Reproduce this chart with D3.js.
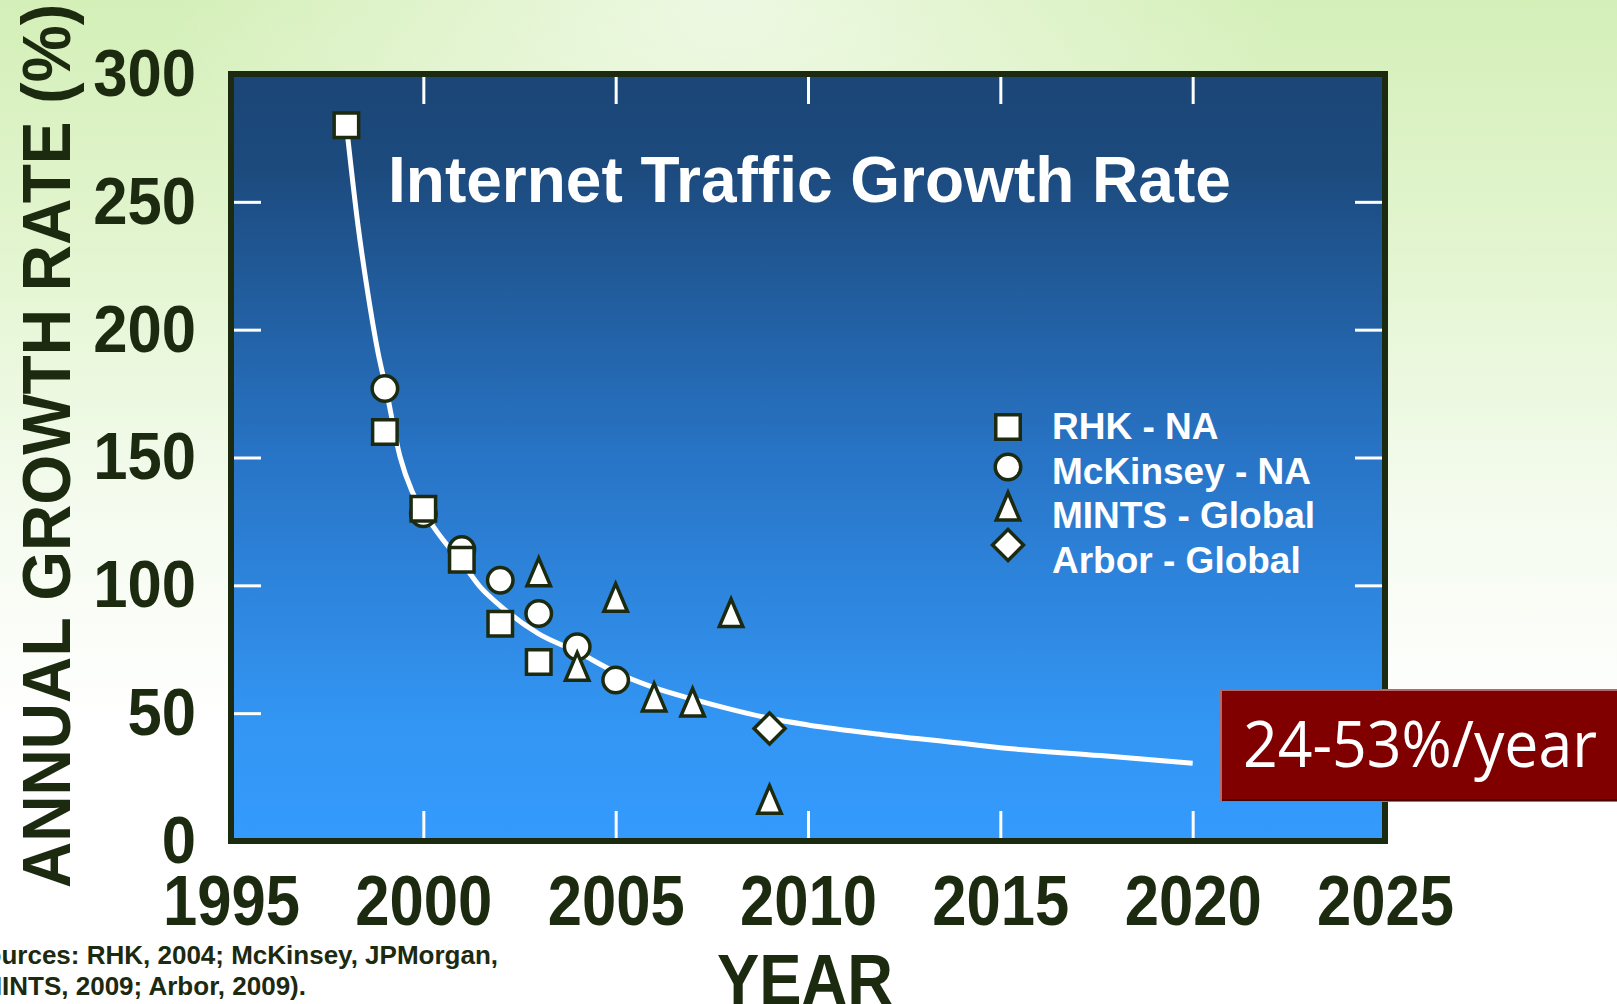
<!DOCTYPE html>
<html lang="en">
<head>
    <meta charset="UTF-8">
    <title>Internet Traffic Growth Rate</title>
    <script src="https://d3js.org/d3.v7.min.js"></script>
    <style>
        body { margin: 0; overflow: hidden; }
        svg { display: block; }
        text { font-family: "Liberation Sans", Arial, sans-serif; font-weight: bold; }
    </style>
</head>
<body>
<script type="text/javascript">
var widthOfTotalDisplay = 1617;
var heightOfTotalDisplay = 1004;
var margin = {
  top: 74,
  bottom: 163,
  left: 231,
  right: 232
};
var width = widthOfTotalDisplay - margin.left - margin.right;
var height = heightOfTotalDisplay - margin.top - margin.bottom;

// axis ticks
var yearTicks = [1995, 2000, 2005, 2010, 2015, 2020, 2025];
var rateTicks = [0, 50, 100, 150, 200, 250, 300];

// measured points
var rhkYears = [1998, 1999, 2000, 2001, 2002, 2003];
var rhkRates = [280, 160, 130, 110, 85, 70];
var mckinseyYears = [1999, 2000, 2001, 2002, 2003, 2004, 2005];
var mckinseyRates = [177, 128, 114, 102, 89, 76, 63];
var mintsYears = [2003, 2004, 2005, 2006, 2007, 2008, 2009];
var mintsRates = [105, 68, 95, 56, 54, 89, 16];
var arborYears = [2009];
var arborRates = [44];

// white trend curve
var fitYears = [1998, 1998.3, 1998.55, 1998.85, 1999, 1999.4, 1999.7, 2000, 2000.5, 2001, 2001.5, 2002,
                2003, 2004, 2005, 2006, 2007, 2008, 2009, 2010, 2012, 2014, 2015, 2017.6, 2020];
var fitRates = [280, 241, 215, 189, 179, 150, 137, 129, 118, 109, 99, 92,
                81, 74, 66, 60, 55.5, 51.5, 48, 45.4, 41.5, 38.2, 36.5, 33.4, 30.4];

var legendLabels = ["RHK - NA", "McKinsey - NA", "MINTS - Global", "Arbor - Global"];

var darkInk = "#1c2a10";

var x = d3.scaleLinear()
        .domain([1995, 2025])
        .range([0, width]);

var y = d3.scaleLinear()
        .domain([0, 300])
        .range([height, 0]);

// tall triangle and square diamond, as drawn in the slide
var tallTriangle = {
    draw: function (context, size) {
        var h = Math.sqrt(size);
        context.moveTo(0, -h * 1.05);
        context.lineTo(h * 0.85, h * 0.95);
        context.lineTo(-h * 0.85, h * 0.95);
        context.closePath();
    }
};
var squareDiamond = {
    draw: function (context, size) {
        var r = Math.sqrt(size);
        context.moveTo(0, -r);
        context.lineTo(r, 0);
        context.lineTo(0, r);
        context.lineTo(-r, 0);
        context.closePath();
    }
};

var series = [
    {name: legendLabels[0], years: rhkYears, rates: rhkRates, type: d3.symbolSquare, size: 600},
    {name: legendLabels[1], years: mckinseyYears, rates: mckinseyRates, type: d3.symbolCircle, size: 510},
    {name: legendLabels[2], years: mintsYears, rates: mintsRates, type: tallTriangle, size: 190},
    {name: legendLabels[3], years: arborYears, rates: arborRates, type: squareDiamond, size: 240}
];

var svg = d3.select("body").append("svg")
          .attr("id", "chart")
          .attr("width", widthOfTotalDisplay)
          .attr("height", heightOfTotalDisplay);

var defs = svg.append("defs");

var bg = defs.append("linearGradient").attr("id", "bgGrad")
    .attr("x1", 0).attr("y1", 0).attr("x2", 0).attr("y2", 1);
bg.append("stop").attr("offset", "0%").attr("stop-color", "#d4efb8");
bg.append("stop").attr("offset", "25%").attr("stop-color", "#e3f5d0");
bg.append("stop").attr("offset", "50%").attr("stop-color", "#f4fbee");
bg.append("stop").attr("offset", "72%").attr("stop-color", "#ffffff");
bg.append("stop").attr("offset", "100%").attr("stop-color", "#ffffff");

var glow = defs.append("radialGradient").attr("id", "glow")
    .attr("cx", 0.45).attr("cy", 0).attr("r", 0.35);
glow.append("stop").attr("offset", "0%").attr("stop-color", "#ffffff").attr("stop-opacity", 0.6);
glow.append("stop").attr("offset", "100%").attr("stop-color", "#ffffff").attr("stop-opacity", 0);

var plotGrad = defs.append("linearGradient").attr("id", "plotGrad")
    .attr("x1", 0).attr("y1", 0).attr("x2", 0).attr("y2", 1);
plotGrad.append("stop").attr("offset", "0%").attr("stop-color", "#1b4676");
plotGrad.append("stop").attr("offset", "12%").attr("stop-color", "#1c4a7d");
plotGrad.append("stop").attr("offset", "50%").attr("stop-color", "#2874c6");
plotGrad.append("stop").attr("offset", "85%").attr("stop-color", "#3396f4");
plotGrad.append("stop").attr("offset", "100%").attr("stop-color", "#349afc");

svg.append("rect")
    .attr("width", widthOfTotalDisplay)
    .attr("height", heightOfTotalDisplay)
    .style("fill", "url(#bgGrad)");
svg.append("rect")
    .attr("width", widthOfTotalDisplay)
    .attr("height", heightOfTotalDisplay)
    .style("fill", "url(#glow)");

var chart = svg.append("g")
            .classed("display", true)
            .attr("transform", "translate(" + margin.left + "," + margin.top + ")");

// squeeze text horizontally like the condensed slide font
var condense = function (factor) {
    return function () {
        var w = this.getComputedTextLength();
        d3.select(this)
            .attr("textLength", w * factor)
            .attr("lengthAdjust", "spacingAndGlyphs");
    };
};

// plot background
chart.append("rect")
    .attr("width", width)
    .attr("height", height)
    .style("fill", "url(#plotGrad)");

// inner white ticks on all four sides
var innerTickYears = yearTicks.slice(1, -1);
var innerTickRates = rateTicks.slice(1, -1);

var tickAxes = [
    {axis: d3.axisBottom(x).tickValues(innerTickYears), at: "translate(0," + height + ")"},
    {axis: d3.axisTop(x).tickValues(innerTickYears), at: "translate(0,0)"},
    {axis: d3.axisLeft(y).tickValues(innerTickRates), at: "translate(0,0)"},
    {axis: d3.axisRight(y).tickValues(innerTickRates), at: "translate(" + width + ",0)"}
];
tickAxes.forEach(function (t) {
    var g = chart.append("g")
        .classed("inner-ticks", true)
        .attr("transform", t.at)
        .call(t.axis.tickSize(-30).tickFormat(""));
    g.select(".domain").remove();
    g.selectAll("line").style("stroke", "#ffffff").style("stroke-width", 3);
});

// title
chart.append("text")
    .attr("x", 388 - margin.left)
    .attr("y", 202 - margin.top)
    .style("fill", "#ffffff")
    .style("font-size", "64px")
    .text("Internet Traffic Growth Rate");

// trend line
var fitData = fitYears.map(function (d, i) { return {year: d, rate: fitRates[i]}; });
var line = d3.line()
    .x(function (d) { return x(d.year); })
    .y(function (d) { return y(d.rate); })
    .curve(d3.curveMonotoneX);

chart.append("path")
    .datum(fitData)
    .attr("d", line)
    .style("fill", "none")
    .style("stroke", "#ffffff")
    .style("stroke-width", 5);

// markers: circles first so squares sit on top of them
var drawOrder = [series[1], series[0], series[2], series[3]];
drawOrder.forEach(function (s) {
    var pts = s.years.map(function (d, i) { return {year: d, rate: s.rates[i]}; });
    chart.append("g").selectAll("path")
        .data(pts)
        .enter()
        .append("path")
        .attr("d", d3.symbol().type(s.type).size(s.size))
        .attr("transform", function (d) {
            return "translate(" + x(d.year) + "," + y(d.rate) + ")";
        })
        .style("fill", "#ffffff")
        .style("stroke", darkInk)
        .style("stroke-width", 3.5)
        .style("stroke-linejoin", "miter");
});

// legend
var legendY = [427, 467, 507, 545];
var legendTextY = [439, 484, 528, 573];
var legend = chart.append("g").classed("legend", true);
series.forEach(function (s, i) {
    legend.append("path")
        .attr("d", d3.symbol().type(s.type).size(s.size))
        .attr("transform", "translate(" + (1008 - margin.left) + "," + (legendY[i] - margin.top) + ")")
        .style("fill", "#ffffff")
        .style("stroke", darkInk)
        .style("stroke-width", 3.5);
    legend.append("text")
        .attr("x", 1052 - margin.left)
        .attr("y", legendTextY[i] - margin.top)
        .style("fill", "#ffffff")
        .style("font-size", "37px")
        .text(s.name);
});

// frame
chart.append("rect")
    .attr("width", width)
    .attr("height", height)
    .style("fill", "none")
    .style("stroke", darkInk)
    .style("stroke-width", 6);

// tick labels
var xLabels = chart.append("g")
    .classed("x axis", true)
    .attr("transform", "translate(0," + height + ")")
    .call(d3.axisBottom(x).tickValues(yearTicks).tickFormat(d3.format("d")).tickSize(0).tickPadding(34));
xLabels.select(".domain").remove();
xLabels.selectAll("text")
    .style("fill", darkInk)
    .style("font-size", "70px")
    .style("font-family", "'Liberation Sans', Arial, sans-serif")
    .each(condense(0.88));

var yLabels = chart.append("g")
    .classed("y axis", true)
    .call(d3.axisLeft(y).tickValues(rateTicks).tickSize(0).tickPadding(35));
yLabels.select(".domain").remove();
yLabels.selectAll("text")
    .style("fill", darkInk)
    .style("font-size", "67px")
    .style("font-family", "'Liberation Sans', Arial, sans-serif")
    .each(condense(0.92));

// axis titles
svg.append("text")
    .attr("transform", "translate(70,446) rotate(-90)")
    .style("text-anchor", "middle")
    .style("fill", darkInk)
    .style("font-size", "68px")
    .attr("textLength", 884)
    .attr("lengthAdjust", "spacingAndGlyphs")
    .text("ANNUAL GROWTH RATE (%)");

svg.append("text")
    .attr("x", 805)
    .attr("y", 1004)
    .style("text-anchor", "middle")
    .style("fill", darkInk)
    .style("font-size", "70px")
    .attr("textLength", 176)
    .attr("lengthAdjust", "spacingAndGlyphs")
    .text("YEAR");

// sources note, cut at the left edge as on the slide
svg.append("text")
    .attr("x", 498)
    .attr("y", 964)
    .style("text-anchor", "end")
    .style("fill", darkInk)
    .style("font-size", "26px")
    .text("(Sources: RHK, 2004; McKinsey, JPMorgan,");
svg.append("text")
    .attr("x", 306)
    .attr("y", 995)
    .style("text-anchor", "end")
    .style("fill", darkInk)
    .style("font-size", "26px")
    .text("MINTS, 2009; Arbor, 2009).");

// red callout box
var callout = svg.append("g").classed("callout", true);
callout.append("rect")
    .attr("x", 1221)
    .attr("y", 690)
    .attr("width", 420)
    .attr("height", 111)
    .style("fill", "#800000")
    .style("stroke", "#b46a6a")
    .style("stroke-width", 2);
callout.append("line")
    .attr("x1", 1222).attr("x2", 1617)
    .attr("y1", 800).attr("y2", 800)
    .style("stroke", "#4a0000")
    .style("stroke-width", 2);
callout.append("text")
    .attr("x", 1243)
    .attr("y", 767)
    .style("fill", "#ffffff")
    .style("font-family", "'Open Sans', 'DejaVu Sans', sans-serif")
    .style("font-weight", "normal")
    .style("font-size", "64px")
    .attr("textLength", 354)
    .attr("lengthAdjust", "spacingAndGlyphs")
    .text("24-53%/year");
</script>

</body>
</html>
